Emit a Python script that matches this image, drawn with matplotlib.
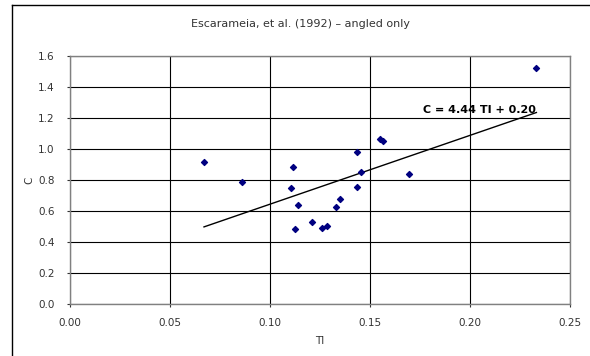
import matplotlib.pyplot as plt
import numpy as np

# Data
ti = [0.067, 0.086, 0.1113, 0.1103, 0.1142, 0.1127, 0.1208, 0.1262, 0.1283,
      0.1328, 0.1350, 0.1435, 0.1435, 0.1457, 0.1548, 0.1565, 0.1693, 0.2332]
c = [0.916, 0.789, 0.886, 0.750, 0.639, 0.484, 0.529, 0.488, 0.503,
     0.626, 0.680, 0.983, 0.755, 0.852, 1.062, 1.052, 0.841, 1.52]
slope = 4.44
intercept = 0.20
x_ticks = [0.00, 0.05, 0.10, 0.15, 0.20, 0.25]
y_ticks = [0.0, 0.2, 0.4, 0.6, 0.8, 1.0, 1.2, 1.4, 1.6]

plt.rcParams['font.family'] = ['DejaVu Sans']

fig = plt.figure(figsize=(5.9, 3.56), dpi=100)
ax = fig.add_axes([70 / 590, 1 - 304 / 356, 500 / 590, 248 / 356])

# Outer chart frame (only left and top edges visible)
fig.add_artist(plt.Line2D([12 / 590, 12 / 590], [0, 1 - 5 / 356], color='black', lw=1))
fig.add_artist(plt.Line2D([12 / 590, 1], [1 - 5 / 356, 1 - 5 / 356], color='black', lw=1))

ax.scatter(ti, c, marker='D', s=9, color='#000080', zorder=3)

# Trend line over the data range
xs = np.array([min(ti), max(ti)])
ax.plot(xs, slope * xs + intercept, color='black', lw=1, zorder=2)
ax.text(0.2045, 1.25, 'C = 4.44 TI + 0.20', fontsize=8, fontweight='bold',
        ha='center', va='center', zorder=4)

ax.set_xlim(0, 0.25)
ax.set_ylim(0, 1.6)
ax.set_xticks(x_ticks)
ax.set_yticks(y_ticks)
ax.set_xticklabels(['%.2f' % v for v in x_ticks])
ax.set_yticklabels(['%.1f' % v for v in y_ticks])
ax.tick_params(labelsize=7.5, colors='#333333', length=2, width=0.8)
ax.tick_params(axis='x', pad=8)
ax.tick_params(axis='y', pad=9)
ax.grid(True, color='black', lw=0.8)
ax.set_axisbelow(True)
for s in ax.spines.values():
    s.set_color('#808080')
    s.set_linewidth(1)

ax.set_xlabel('TI', fontsize=7.5, color='#333333', labelpad=6)
ax.set_ylabel('C', fontsize=7.5, color='#333333', labelpad=3)
fig.text(301 / 590, 1 - 24 / 356, 'Escarameia, et al. (1992) \u2013 angled only',
         fontsize=8, color='#333333', ha='center', va='center')

fig.savefig('out.png', dpi=100)
